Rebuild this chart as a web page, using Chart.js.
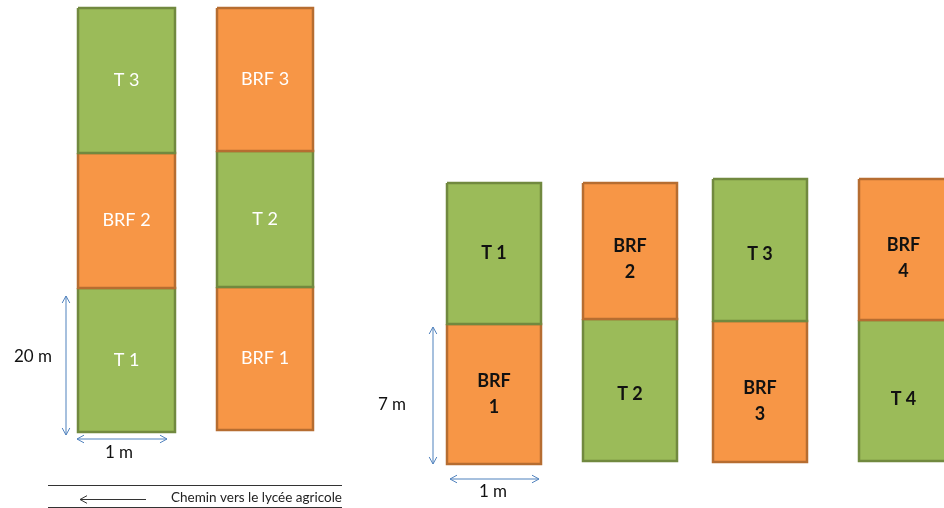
<!DOCTYPE html>
<html>
<head>
<meta charset="utf-8">
<script src="https://cdn.jsdelivr.net/npm/chart.js@4.4.1/dist/chart.umd.min.js"></script>
<style>
  html, body { margin: 0; padding: 0; background: #fff; }
  #plan { display: block; }
</style>
</head>
<body>
<canvas id="plan" width="944" height="508"></canvas>
<script>
// trial 1 (left): two columns of three plots, listed top to bottom
const leftLabels = [["T 3", "BRF 2", "T 1"], ["BRF 3", "T 2", "BRF 1"]];
const leftColLeft = [78, 217];
const leftColRight = [175, 313];
const leftRowEdges = [[8, 153, 288, 432], [8, 151, 287, 430]];

// trial 2 (right): four columns of two plots
const rightLabels = [["T 1", "BRF 1"], ["BRF 2", "T 2"], ["T 3", "BRF 3"], ["BRF 4", "T 4"]];
const rightColLeft = [447, 583, 713, 859];
const rightColRight = [541, 677, 807, 953];
const rightRowEdges = [[183, 324, 464], [183, 319, 461], [179, 321, 462], [179, 320, 461]];

const GREEN = "#9bbb59", GREEN_EDGE = "#71893f";
const ORANGE = "#f79646", ORANGE_EDGE = "#b66d31";
const BLUE = "#4f81bd";
// text sits a little low in some of the right-hand plots
const rightTextShift = [[0, 0], [8, 4], [4, 10], [9, 9]];

function plotDatasets(labels, lefts, rights, edges, trial) {
  const out = [];
  labels.forEach((col, c) => {
    col.forEach((name, r) => {
      const x0 = lefts[c], x1 = rights[c];
      const y0 = edges[c][r], y1 = edges[c][r + 1];
      const isT = name.startsWith("T");
      out.push({
        label: name,
        trial: trial,
        shift: trial === 2 ? rightTextShift[c][r] : 0,
        data: [
          { x: x0, y: y0 }, { x: x1, y: y0 }, { x: x1, y: y1 },
          { x: x0, y: y1 }, { x: x0, y: y0 },
        ],
        fill: "shape",
        backgroundColor: isT ? GREEN : ORANGE,
        borderColor: isT ? GREEN_EDGE : ORANGE_EDGE,
        borderWidth: 2.5,
        pointRadius: 0,
        tension: 0,
      });
    });
  });
  return out;
}

const datasets = [
  ...plotDatasets(leftLabels, leftColLeft, leftColRight, leftRowEdges, 1),
  ...plotDatasets(rightLabels, rightColLeft, rightColRight, rightRowEdges, 2),
];

// dimension arrows and the path at the bottom
const arrows = [
  { a: [66, 296], b: [66, 435] },
  { a: [77, 439], b: [167, 439] },
  { a: [433, 327], b: [433, 464] },
  { a: [450, 479], b: [539, 479] },
];
const notes = [
  { t: "20 m", x: 33, y: 357 },
  { t: "1 m", x: 119, y: 453 },
  { t: "7 m", x: 392, y: 405 },
  { t: "1 m", x: 493, y: 492 },
];

function head(ctx, tip, from, size) {
  const ang = Math.atan2(tip[1] - from[1], tip[0] - from[0]);
  ctx.beginPath();
  ctx.moveTo(tip[0] - size * Math.cos(ang - 0.5), tip[1] - size * Math.sin(ang - 0.5));
  ctx.lineTo(tip[0], tip[1]);
  ctx.lineTo(tip[0] - size * Math.cos(ang + 0.5), tip[1] - size * Math.sin(ang + 0.5));
  ctx.stroke();
}

const labelPlugin = {
  id: "plotLabels",
  afterDatasetsDraw(chart) {
    const ctx = chart.ctx;
    const xs = chart.scales.x, ys = chart.scales.y;
    const px = v => xs.getPixelForValue(v);
    const py = v => ys.getPixelForValue(v);
    ctx.save();
    ctx.textAlign = "center";
    ctx.textBaseline = "middle";

    // plot names
    chart.data.datasets.forEach(ds => {
      const pts = ds.data;
      const cx = px((pts[0].x + Math.min(pts[1].x, 944 + 4)) / 2);
      const cy = py((pts[0].y + pts[2].y) / 2) + ds.shift;
      if (ds.trial === 1) {
        ctx.fillStyle = "#ffffff";
        ctx.font = "18px Lato, 'Open Sans', sans-serif";
        ctx.fillText(ds.label, cx, cy);
      } else {
        ctx.fillStyle = "#111111";
        ctx.font = "bold 18px Lato, 'Open Sans', sans-serif";
        const parts = ds.label.split(" ");
        if (parts[0] === "BRF") {
          ctx.fillText(parts[0], cx, cy - 13);
          ctx.fillText(parts[1], cx, cy + 13);
        } else {
          ctx.fillText(ds.label, cx, cy);
        }
      }
    });

    // dimension arrows
    ctx.strokeStyle = BLUE;
    ctx.lineWidth = 1;
    arrows.forEach(ar => {
      const a = [px(ar.a[0]), py(ar.a[1])], b = [px(ar.b[0]), py(ar.b[1])];
      ctx.beginPath();
      ctx.moveTo(a[0], a[1]);
      ctx.lineTo(b[0], b[1]);
      ctx.stroke();
      head(ctx, a, b, 8);
      head(ctx, b, a, 8);
    });
    ctx.fillStyle = "#111111";
    ctx.font = "17px Lato, 'Open Sans', sans-serif";
    notes.forEach(n => ctx.fillText(n.t, px(n.x), py(n.y)));

    // path to the school
    ctx.strokeStyle = "#333333";
    ctx.lineWidth = 1;
    [485, 507].forEach(y => {
      ctx.beginPath();
      ctx.moveTo(px(48), py(y) + 0.5);
      ctx.lineTo(px(342), py(y) + 0.5);
      ctx.stroke();
    });
    ctx.beginPath();
    ctx.moveTo(px(80), py(499) + 0.5);
    ctx.lineTo(px(146), py(499) + 0.5);
    ctx.stroke();
    head(ctx, [px(80), py(499) + 0.5], [px(146), py(499) + 0.5], 8);
    ctx.textAlign = "right";
    ctx.fillStyle = "#222222";
    ctx.font = "13.5px Lato, 'Open Sans', sans-serif";
    ctx.fillText("Chemin vers le lycée agricole", px(342), py(498));
    ctx.restore();
  },
};

new Chart(document.getElementById("plan").getContext("2d"), {
  type: "line",
  data: { datasets: datasets },
  options: {
    responsive: false,
    animation: false,
    layout: { padding: 0 },
    plugins: { legend: { display: false }, tooltip: { enabled: false } },
    scales: {
      x: { type: "linear", min: 0, max: 944, display: false },
      y: { type: "linear", min: 0, max: 508, reverse: true, display: false },
    },
  },
  plugins: [labelPlugin],
});
</script>
</body>
</html>
